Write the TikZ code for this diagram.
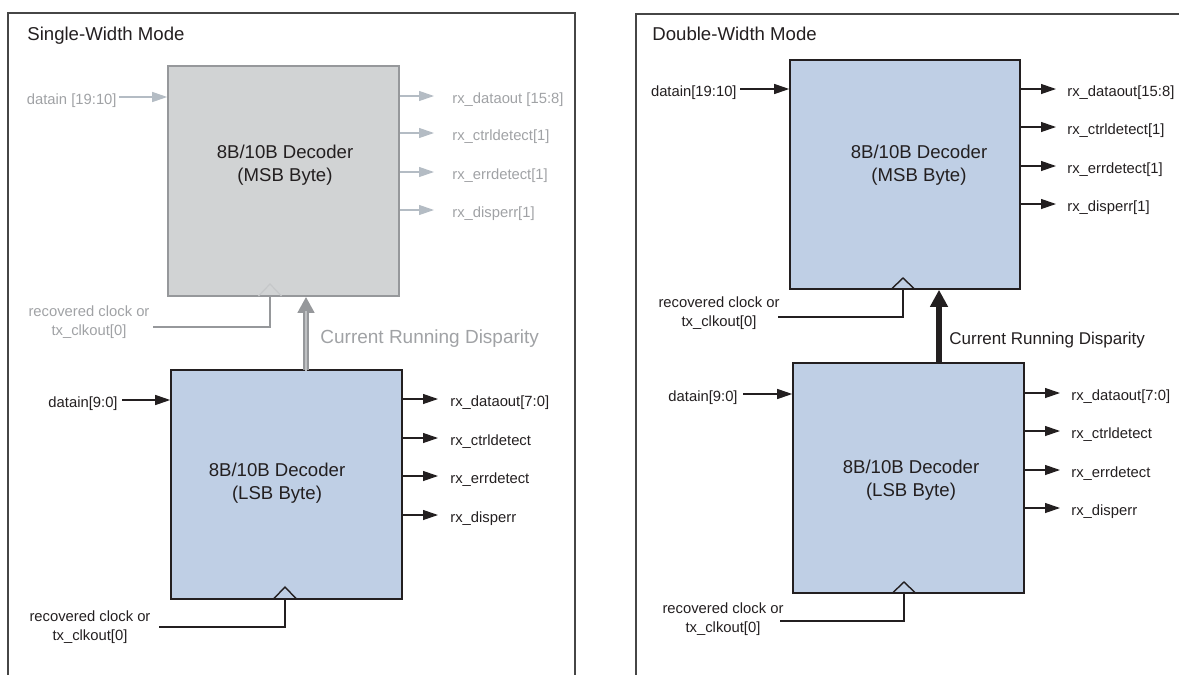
\documentclass[tikz,border=0pt]{standalone}
\usepackage{fontspec}
\setmainfont{Liberation Sans}
\usetikzlibrary{arrows.meta}
\definecolor{boxblue}{RGB}{191,207,229}
\definecolor{boxgray}{RGB}{209,211,212}
\definecolor{graytext}{RGB}{160,162,165}
\definecolor{grayline}{RGB}{180,188,196}
\definecolor{grayedge}{RGB}{150,152,155}
\definecolor{crdgray}{RGB}{160,162,165}
\definecolor{framec}{RGB}{70,70,70}
\definecolor{inkc}{RGB}{35,31,32}
\begin{document}
\begin{tikzpicture}[x=0.5pt,y=-0.5pt,
  frame/.style={draw=framec, line width=0.7pt},
  title/.style={font=\fontsize{9.3}{11}\selectfont, anchor=west, inner sep=0pt, text height=0.72em, text depth=0pt, text=inkc},
  sig/.style={font=\fontsize{7.4}{9.2}\selectfont, inner sep=0pt, text height=0.72em, text depth=0pt, text=inkc},
  clklbl/.style={font=\fontsize{7.4}{9.2}\selectfont, inner sep=0pt, align=center, text=inkc},
  boxtxt/.style={font=\fontsize{9.3}{11.5}\selectfont, inner sep=0pt, align=center, text=inkc},
  blk/.style={rectangle, inner sep=0pt, line width=0.8pt},
  bsig/.style={draw=inkc, line width=0.6pt, -{Triangle[length=7.5pt,width=5pt]}},
  gsig/.style={draw=grayline, line width=0.6pt, -{Triangle[length=7.5pt,width=5pt]}},
  bline/.style={draw=inkc, line width=0.7pt},
  gline/.style={draw=grayedge, line width=0.7pt},
  gchev/.style={draw=boxgray!80!grayedge, line width=0.6pt},
  crdfontL/.style={font=\fontsize{9.5}{11}\selectfont, anchor=west, inner sep=0pt, text height=0.72em, text depth=0pt},
  crdfontR/.style={font=\fontsize{8.5}{10}\selectfont, anchor=west, inner sep=0pt, text height=0.72em, text depth=0pt, text=inkc},
]
\useasboundingbox (0,0) rectangle (1179,675);

% ================= Left panel =================
\draw[frame] (8,675) -- (8,13) -- (575,13) -- (575,675);
\node[title] (tL) at (27,33) {Single-Width Mode};

% MSB (greyed)
\node[blk, fill=boxgray, draw=grayedge, minimum width=115.5pt, minimum height=115pt] (mL) at (283.5,181) {};
\node[boxtxt] (mLt) at (285,165.5) {8B/10B Decoder\\(MSB Byte)};
\node[sig, anchor=east, text=graytext] (mLi) at (117,97) {datain [19:10]};
\draw[gsig] ([xshift=1pt]mLi.east) -- (mL.west |- mLi);
\node[sig, anchor=west, text=graytext] (mLo1) at (452,96) {rx\_dataout [15:8]};
\node[sig, anchor=west, text=graytext] (mLo2) at (452,133) {rx\_ctrldetect[1]};
\node[sig, anchor=west, text=graytext] (mLo3) at (452,172) {rx\_errdetect[1]};
\node[sig, anchor=west, text=graytext] (mLo4) at (452,210) {rx\_disperr[1]};
\foreach \o in {mLo1,mLo2,mLo3,mLo4}{\draw[gsig] (mL.east |- \o) -- ([xshift=-9pt]\o.west);}
\coordinate (mLc) at (270,296);
\draw[gchev] ([xshift=-5.75pt]mLc) -- ([yshift=6pt]mLc) -- ([xshift=5.75pt]mLc);
\node[clklbl, text=graytext] (mLk) at (89,322) {recovered clock or\\tx\_clkout[0]};
\coordinate (mLkw) at (153,327);
\draw[gline] (mLc) |- (mLkw);

% LSB
\node[blk, fill=boxblue, draw=inkc, minimum width=115.5pt, minimum height=114.5pt] (lL) at (286.5,484.5) {};
\node[boxtxt] (lLt) at (277,483) {8B/10B Decoder\\(LSB Byte)};
\node[sig, anchor=east] (lLi) at (118,400) {datain[9:0]};
\draw[bsig] ([xshift=2pt]lLi.east) -- (lL.west |- lLi);
\node[sig, anchor=west] (lLo1) at (450,399) {rx\_dataout[7:0]};
\node[sig, anchor=west] (lLo2) at (450,438) {rx\_ctrldetect};
\node[sig, anchor=west] (lLo3) at (450,476) {rx\_errdetect};
\node[sig, anchor=west] (lLo4) at (450,515) {rx\_disperr};
\foreach \o in {lLo1,lLo2,lLo3,lLo4}{\draw[bsig] (lL.east |- \o) -- ([xshift=-6pt]\o.west);}
\coordinate (lLc) at (285,599);
\draw[bline] ([xshift=-5.75pt]lLc) -- ([yshift=6pt]lLc) -- ([xshift=5.75pt]lLc);
\node[clklbl] (lLk) at (90,627) {recovered clock or\\tx\_clkout[0]};
\coordinate (lLkw) at (159,627);
\draw[bline] (lLc) |- (lLkw);

% Current running disparity (greyed)
\coordinate (crdL) at (306,370);
\draw[draw=grayedge, line width=3.2pt, -{Triangle[length=8pt,width=8pt]}] (crdL) -- (crdL |- mL.south);
\draw[draw=boxgray!70!grayedge, line width=1.4pt] ([yshift=-0.6pt]crdL) -- ([yshift=-7pt]crdL |- mL.south);
\node[crdfontL, text=graytext] (crdLt) at (320,336) {Current Running Disparity};

% ================= Right panel =================
\draw[frame] (636,675) -- (636,14) -- (1181,14);
\node[title] (tR) at (652,33) {Double-Width Mode};

% MSB
\node[blk, fill=boxblue, draw=inkc, minimum width=115pt, minimum height=114.5pt] (mR) at (905,174.5) {};
\node[boxtxt] (mRt) at (919,165.5) {8B/10B Decoder\\(MSB Byte)};
\node[sig, anchor=east] (mRi) at (737,89) {datain[19:10]};
\draw[bsig] ([xshift=1.5pt]mRi.east) -- (mR.west |- mRi);
\node[sig, anchor=west] (mRo1) at (1067,89) {rx\_dataout[15:8]};
\node[sig, anchor=west] (mRo2) at (1067,127) {rx\_ctrldetect[1]};
\node[sig, anchor=west] (mRo3) at (1067,166) {rx\_errdetect[1]};
\node[sig, anchor=west] (mRo4) at (1067,204) {rx\_disperr[1]};
\foreach \o in {mRo1,mRo2,mRo3,mRo4}{\draw[bsig] (mR.east |- \o) -- ([xshift=-5.5pt]\o.west);}
\coordinate (mRc) at (903,289);
\draw[bline] ([xshift=-5.75pt]mRc) -- ([yshift=5.5pt]mRc) -- ([xshift=5.75pt]mRc);
\node[clklbl] (mRk) at (719,313) {recovered clock or\\tx\_clkout[0]};
\coordinate (mRkw) at (778,317);
\draw[bline] (mRc) |- (mRkw);

% LSB
\node[blk, fill=boxblue, draw=inkc, minimum width=115.5pt, minimum height=115pt] (lR) at (908.5,478) {};
\node[boxtxt] (lRt) at (911,480.5) {8B/10B Decoder\\(LSB Byte)};
\node[sig, anchor=east] (lRi) at (738,394) {datain[9:0]};
\draw[bsig] ([xshift=2.5pt]lRi.east) -- (lR.west |- lRi);
\node[sig, anchor=west] (lRo1) at (1071,393) {rx\_dataout[7:0]};
\node[sig, anchor=west] (lRo2) at (1071,431) {rx\_ctrldetect};
\node[sig, anchor=west] (lRo3) at (1071,470) {rx\_errdetect};
\node[sig, anchor=west] (lRo4) at (1071,508) {rx\_disperr};
\foreach \o in {lRo1,lRo2,lRo3,lRo4}{\draw[bsig] (lR.east |- \o) -- ([xshift=-5.5pt]\o.west);}
\coordinate (lRc) at (904,593);
\draw[bline] ([xshift=-5.75pt]lRc) -- ([yshift=5.5pt]lRc) -- ([xshift=5.75pt]lRc);
\node[clklbl] (lRk) at (723,619) {recovered clock or\\tx\_clkout[0]};
\coordinate (lRkw) at (780,621);
\draw[bline] (lRc) |- (lRkw);

% Current running disparity
\coordinate (crdR) at (939,363);
\draw[draw=inkc, line width=3pt, -{Triangle[length=8.5pt,width=8.5pt]}] (crdR) -- (crdR |- mR.south);
\node[crdfontR] (crdRt) at (949,337) {Current Running Disparity};
\end{tikzpicture}
\end{document}
